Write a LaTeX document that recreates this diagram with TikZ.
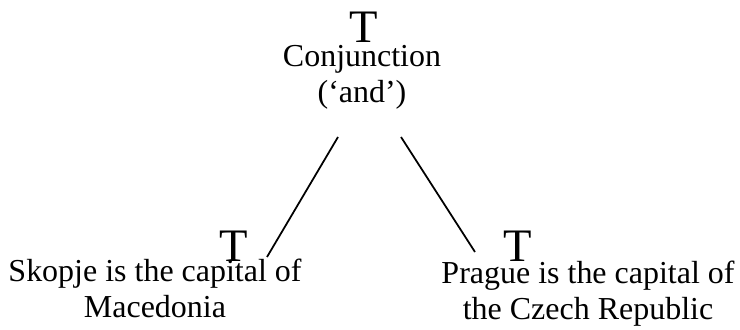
\documentclass[tikz,border=0pt]{standalone}
\usepackage{fontspec}
\setmainfont{Liberation Serif}
\usetikzlibrary{positioning}
\tikzset{
  tval/.style = {anchor=base, inner sep=0pt, font=\fontsize{26.5}{30}\selectfont},
  prop/.style = {anchor=base, inner sep=0pt, align=center,
                 font=\fontsize{18.2}{20.5}\selectfont},
  ln/.style   = {draw=black, line width=1pt}
}
\begin{document}
\begin{tikzpicture}[x=0.02cm, y=-0.02cm]
    \useasboundingbox (0,0) rectangle (740,330);
    \node[tval] (t0) at (364,43) {T};
    \node[prop] (c)  at (362,103) {Conjunction\\(‘and’)};
    \node[tval] (t1) at (234,262) {T};
    \node[prop] (s)  at (155,318) {Skopje is the capital of\\Macedonia};
    \node[tval] (t2) at (518,262) {T};
    \node[prop] (p)  at (588,320) {Prague is the capital of\\the Czech Republic};
    \coordinate (la) at (338,137); \coordinate (lb) at (267,257);
    \coordinate (ra) at (401,137); \coordinate (rb) at (475,252);
    \draw[ln] (la) -- (lb); \draw[ln] (ra) -- (rb);
  \end{tikzpicture}
\end{document}
